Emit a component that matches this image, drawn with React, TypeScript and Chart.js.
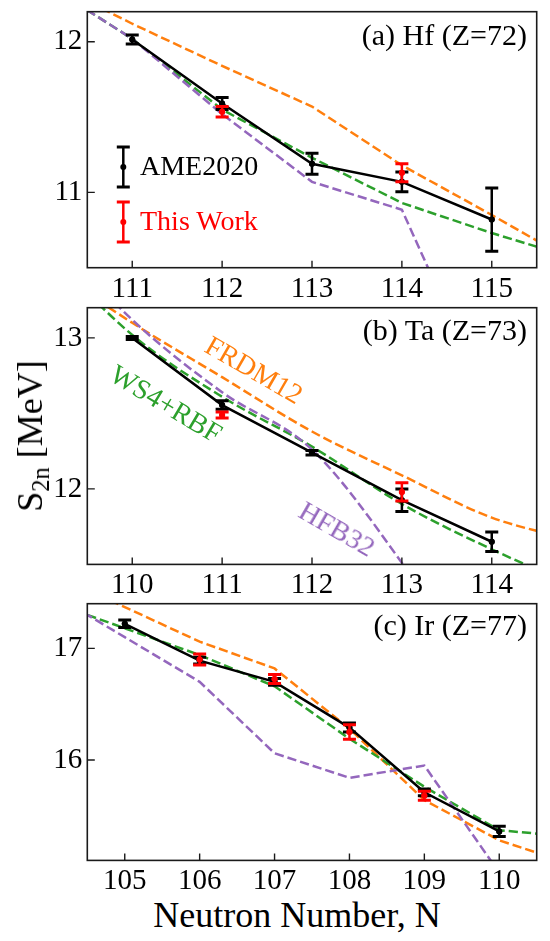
import { useEffect, useRef } from 'react'
import { Chart, registerables } from 'chart.js'

Chart.register(...registerables)

const SERIF = '"Liberation Serif", "Times New Roman", serif'
const ORANGE = '#ff7f0e'
const GREEN = '#2ca02c'
const PURPLE = '#9467bd'
const RED = '#ff0000'

// ---- (a) Hf, Z=72 ----
const xTicksA = [111, 112, 113, 114, 115]
const yTicksA = [11, 12]
const thNA = [110, 111, 112, 113, 114, 115, 116]
const frdmA = [12.42, 12.12, 11.84, 11.57, 11.18, 10.85, 10.51]
const ws4A = [12.40, 12.02, 11.55, 11.23, 10.93, 10.73, 10.55]
const hfbA = [12.40, 12.02, 11.52, 11.07, 10.885, 9.56, 8.3]
const ameNA = [111, 112, 113, 114, 115]
const ameA = [12.016, 11.59, 11.19, 11.07, 10.82]
const ameErrA = [0.03, 0.04, 0.07, 0.066, 0.21]
const workNA = [112, 114]
const workA = [11.535, 11.13]
const workErrA = [0.035, 0.06]

// ---- (b) Ta, Z=73 ----
const xTicksB = [110, 111, 112, 113, 114]
const yTicksB = [12, 13]
const thNB = [109, 110, 111, 112, 113, 114, 115]
const frdmB = [13.50, 13.10, 12.74, 12.38, 12.09, 11.81, 11.65]
const ws4B = [13.60, 13.02, 12.61, 12.28, 11.90, 11.60, 11.34]
const hfbB = [13.75, 13.12, 12.64, 12.26, 11.51, 10.6, 9.8]
const ameNB = [110, 111, 112, 113, 114]
const ameB = [13.0, 12.555, 12.24, 11.925, 11.65]
const ameErrB = [0.01, 0.028, 0.015, 0.075, 0.064]
const workNB = [111, 113]
const workB = [12.49, 11.98]
const workErrB = [0.02, 0.06]

// ---- (c) Ir, Z=77 ----
const xTicksC = [105, 106, 107, 108, 109, 110]
const yTicksC = [16, 17]
const thNC = [104, 105, 106, 107, 108, 109, 110, 111]
const frdmC = [17.68, 17.37, 17.06, 16.82, 16.28, 15.64, 15.28, 15.06]
const ws4C = [17.42, 17.18, 16.94, 16.66, 16.19, 15.76, 15.37, 15.31]
const hfbC = [17.50, 17.10, 16.70, 16.06, 15.84, 15.95, 14.99, 14.2]
const ameNC = [105, 106, 107, 108, 109, 110]
const ameC = [17.22, 16.89, 16.70, 16.29, 15.71, 15.36]
const ameErrC = [0.033, 0.03, 0.03, 0.04, 0.03, 0.045]
const workNC = [106, 107, 108, 109]
const workC = [16.90, 16.725, 16.25, 15.68]
const workErrC = [0.05, 0.04, 0.065, 0.04]

const AXIS_LEFT = 87.3
const AXIS_RIGHT = 536.7
const CANVAS_W = 550
const CANVAS_H = 300
const PAD_TOP = 11.7

const pts = (xs: number[], ys: number[]) => xs.map((x, i) => ({ x, y: ys[i] }))

// frame around plot + inward ticks on left and bottom
const frame = {
  id: 'frame',
  afterDraw(chart: any) {
    const { ctx, chartArea: a, scales } = chart
    ctx.save()
    ctx.strokeStyle = '#1a1a1a'
    ctx.lineWidth = 1.6
    ctx.strokeRect(a.left, a.top, a.right - a.left, a.bottom - a.top)
    ctx.lineWidth = 1.4
    ctx.beginPath()
    scales.x.ticks.forEach((t: any) => {
      const px = scales.x.getPixelForValue(t.value)
      ctx.moveTo(px, a.bottom)
      ctx.lineTo(px, a.bottom - 7)
    })
    scales.y.ticks.forEach((t: any) => {
      const py = scales.y.getPixelForValue(t.value)
      ctx.moveTo(a.left, py)
      ctx.lineTo(a.left + 7.5, py)
    })
    ctx.stroke()
    ctx.restore()
  },
}

const errorBars = {
  id: 'errorBars',
  afterDatasetDraw(chart: any, args: any) {
    const ds = chart.data.datasets[args.index]
    if (!ds.errors) return
    const { ctx } = chart
    const y = chart.scales.y
    ctx.save()
    ctx.strokeStyle = ds.errColor
    args.meta.data.forEach((pt: any, i: number) => {
      const v = ds.data[i].y
      const e = ds.errors[i]
      const top = y.getPixelForValue(v + e)
      const bot = y.getPixelForValue(v - e)
      ctx.lineWidth = 2.5
      ctx.beginPath()
      ctx.moveTo(pt.x, top)
      ctx.lineTo(pt.x, bot)
      ctx.stroke()
      ctx.lineWidth = 3
      ctx.beginPath()
      ctx.moveTo(pt.x - 6.5, top)
      ctx.lineTo(pt.x + 6.5, top)
      ctx.moveTo(pt.x - 6.5, bot)
      ctx.lineTo(pt.x + 6.5, bot)
      ctx.stroke()
      ctx.beginPath()
      ctx.fillStyle = ds.errColor
      ctx.arc(pt.x, y.getPixelForValue(v), 3, 0, Math.PI * 2)
      ctx.fill()
    })
    ctx.restore()
  },
}

// errorbar symbols of the legend in panel (a)
const legendMarks = {
  id: 'legendMarks',
  afterDraw(chart: any) {
    const { ctx, chartArea: a } = chart
    const x = a.left + 36
    const draw = (y0: number, color: string) => {
      ctx.strokeStyle = color
      ctx.fillStyle = color
      ctx.lineWidth = 2.5
      ctx.beginPath()
      ctx.moveTo(x, y0)
      ctx.lineTo(x, y0 + 40)
      ctx.stroke()
      ctx.lineWidth = 3
      ctx.beginPath()
      ctx.moveTo(x - 6.5, y0)
      ctx.lineTo(x + 6.5, y0)
      ctx.moveTo(x - 6.5, y0 + 40)
      ctx.lineTo(x + 6.5, y0 + 40)
      ctx.stroke()
      ctx.beginPath()
      ctx.arc(x, y0 + 20, 3, 0, Math.PI * 2)
      ctx.fill()
    }
    ctx.save()
    draw(a.top + 135.3, '#000')
    draw(a.top + 190.3, RED)
    ctx.restore()
  },
}

type PanelProps = {
  top: number
  plotH: number
  xMin: number
  xMax: number
  yMin: number
  yMax: number
  xTicks: number[]
  yTicks: number[]
  thN: number[]
  frdm: number[]
  ws4: number[]
  hfb: number[]
  ameN: number[]
  ame: number[]
  ameErr: number[]
  workN: number[]
  work: number[]
  workErr: number[]
  smooth?: boolean
  legend?: boolean
}

function Panel(p: PanelProps) {
  const canvasRef = useRef<HTMLCanvasElement>(null)
  const chartRef = useRef<Chart | null>(null)

  useEffect(() => {
    if (!canvasRef.current) return
    if (chartRef.current) chartRef.current.destroy()

    const theory = (label: string, ys: number[], color: string, order: number) => ({
      label,
      data: pts(p.thN, ys),
      borderColor: color,
      borderWidth: 2.5,
      borderDash: [9.25, 4],
      pointRadius: 0,
      fill: false,
      order,
      tension: 0,
      cubicInterpolationMode: p.smooth ? 'monotone' : 'default',
    })

    const tickFont = { family: SERIF, size: 29 }
    const xAxisH = CANVAS_H - PAD_TOP - p.plotH

    chartRef.current = new Chart(canvasRef.current, {
      type: 'line',
      data: {
        datasets: [
          {
            label: 'This Work',
            data: pts(p.workN, p.work),
            showLine: false,
            pointRadius: 3,
            pointBackgroundColor: RED,
            pointBorderWidth: 0,
            borderColor: RED,
            errors: p.workErr,
            errColor: RED,
            order: 0,
          },
          {
            label: 'AME2020',
            data: pts(p.ameN, p.ame),
            borderColor: '#000',
            borderWidth: 2.5,
            pointRadius: 3,
            pointBackgroundColor: '#000',
            pointBorderWidth: 0,
            errors: p.ameErr,
            errColor: '#000',
            order: 1,
          },
          theory('HFB32', p.hfb, PURPLE, 2),
          theory('WS4+RBF', p.ws4, GREEN, 3),
          theory('FRDM12', p.frdm, ORANGE, 4),
        ] as any,
      },
      options: {
        responsive: false,
        animation: false,
        layout: { padding: { top: PAD_TOP, right: CANVAS_W - AXIS_RIGHT, left: 0, bottom: 0 } },
        plugins: { legend: { display: false }, tooltip: { enabled: false } },
        scales: {
          x: {
            type: 'linear',
            min: p.xMin,
            max: p.xMax,
            grid: { display: false, drawTicks: false },
            border: { display: false },
            afterBuildTicks: (s: any) => {
              s.ticks = p.xTicks.map(value => ({ value }))
            },
            ticks: {
              color: '#000',
              font: tickFont,
              padding: 4,
              maxRotation: 0,
              autoSkip: false,
              callback: (v: any) => String(v),
            },
            afterFit: (s: any) => {
              s.height = xAxisH
              s.paddingLeft = 0
              s.paddingRight = 0
            },
          },
          y: {
            type: 'linear',
            min: p.yMin,
            max: p.yMax,
            grid: { display: false, drawTicks: false },
            border: { display: false },
            afterBuildTicks: (s: any) => {
              s.ticks = p.yTicks.map(value => ({ value }))
            },
            ticks: {
              color: '#000',
              font: tickFont,
              padding: 5,
              autoSkip: false,
              callback: (v: any) => String(v),
            },
            afterFit: (s: any) => {
              s.width = AXIS_LEFT
              s.paddingTop = 0
              s.paddingBottom = 0
            },
          },
        },
      } as any,
      plugins: [frame, errorBars, ...(p.legend ? [legendMarks] : [])] as any,
    })

    return () => {
      chartRef.current?.destroy()
      chartRef.current = null
    }
  }, [p])

  return (
    <canvas
      ref={canvasRef}
      width={CANVAS_W}
      height={CANVAS_H}
      style={{ position: 'absolute', left: 0, top: p.top, width: CANVAS_W, height: CANVAS_H }}
    />
  )
}

const panelA: PanelProps = {
  top: 0, plotH: 256, xMin: 110.5, xMax: 115.5, yMin: 10.5, yMax: 12.2,
  xTicks: xTicksA, yTicks: yTicksA,
  thN: thNA, frdm: frdmA, ws4: ws4A, hfb: hfbA,
  ameN: ameNA, ame: ameA, ameErr: ameErrA, workN: workNA, work: workA, workErr: workErrA,
  legend: true,
}
const panelB: PanelProps = {
  top: 295.6, plotH: 256.7, xMin: 109.5, xMax: 114.5, yMin: 11.5, yMax: 13.2,
  xTicks: xTicksB, yTicks: yTicksB,
  thN: thNB, frdm: frdmB, ws4: ws4B, hfb: hfbB,
  ameN: ameNB, ame: ameB, ameErr: ameErrB, workN: workNB, work: workB, workErr: workErrB,
  smooth: true,
}
const panelC: PanelProps = {
  top: 591.6, plotH: 256.7, xMin: 104.5, xMax: 110.5, yMin: 15.1, yMax: 17.4,
  xTicks: xTicksC, yTicks: yTicksC,
  thN: thNC, frdm: frdmC, ws4: ws4C, hfb: hfbC,
  ameN: ameNC, ame: ameC, ameErr: ameErrC, workN: workNC, work: workC, workErr: workErrC,
}

// text placed by baseline (Liberation Serif: baseline sits 0.8375em below the top of a 1em line box)
function Text({ x, base, size, color = '#000', right, children }: any) {
  const style: any = {
    position: 'absolute',
    top: base - 0.8375 * size,
    fontSize: size,
    lineHeight: `${size}px`,
    color,
    whiteSpace: 'nowrap',
  }
  if (right) style.right = CANVAS_W - x
  else style.left = x
  return <div style={style}>{children}</div>
}

function Rotated({ cx, cy, size, color, angle, children }: any) {
  return (
    <div
      style={{
        position: 'absolute',
        left: cx,
        top: cy,
        fontSize: size,
        lineHeight: `${size}px`,
        color,
        whiteSpace: 'nowrap',
        transform: `translate(-50%, -50%) rotate(${angle}deg)`,
      }}
    >
      {children}
    </div>
  )
}

export default function App() {
  return (
    <div style={{ position: 'absolute', left: 0, top: 0, width: 550, height: 941, background: '#fff', fontFamily: SERIF, overflow: 'hidden' }}>
      <Panel {...panelA} />
      <Panel {...panelB} />
      <Panel {...panelC} />

      <Text x={527} base={45} size={30} right>(a) Hf (Z=72)</Text>
      <Text x={527} base={340} size={30} right>(b) Ta (Z=73)</Text>
      <Text x={527} base={635} size={30} right>(c) Ir (Z=77)</Text>

      <Text x={140} base={175.7} size={28}>AME2020</Text>
      <Text x={140} base={230} size={28} color={RED}>This Work</Text>

      <Rotated cx={254} cy={370} size={28} color={ORANGE} angle={30}>FRDM12</Rotated>
      <Rotated cx={166} cy={404} size={28} color={GREEN} angle={31}>WS4+RBF</Rotated>
      <Rotated cx={337} cy={529} size={28} color={PURPLE} angle={30}>HFB32</Rotated>

      <Rotated cx={30} cy={436} size={36} color="#000" angle={-90}>
        S<sub style={{ fontSize: '0.68em', lineHeight: 0, verticalAlign: '-0.28em' }}>2n</sub> [MeV]
      </Rotated>

      <div
        style={{
          position: 'absolute',
          left: 297,
          top: 927 - 0.8375 * 36,
          fontSize: 36,
          lineHeight: '36px',
          transform: 'translateX(-50%)',
          whiteSpace: 'nowrap',
        }}
      >
        Neutron Number, N
      </div>
    </div>
  )
}
